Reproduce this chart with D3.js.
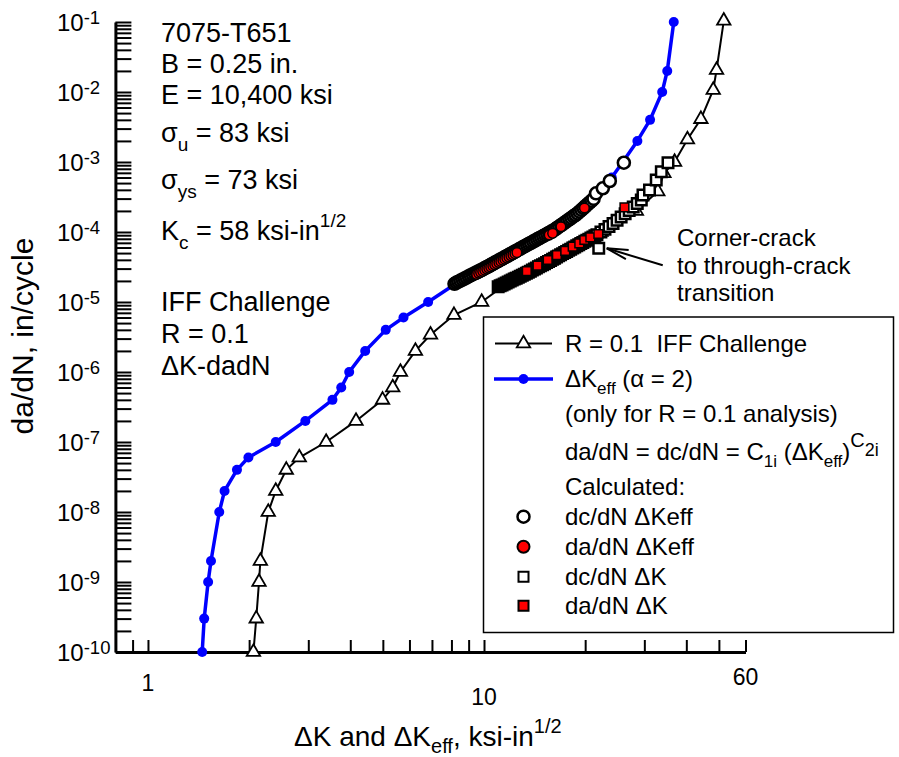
<!DOCTYPE html>
<html>
<head>
<meta charset="utf-8">
<script src="https://cdn.jsdelivr.net/npm/d3@7/dist/d3.min.js"></script>
<style>
  html, body { margin: 0; padding: 0; background: #ffffff; }
  svg text { font-family: "Liberation Sans", Arial, Helvetica, sans-serif; fill: #000; white-space: pre; }
</style>
</head>
<body>
<svg id="chart" width="899" height="757"></svg>
<script>
// 7075-T651, R = 0.1: da/dN against dK and dKeff (log-log)

// R = 0.1 IFF Challenge curve (open triangles)
const testK    = [2.06, 2.10, 2.14, 2.16, 2.28, 2.40, 2.58, 2.82, 3.39, 4.16, 4.99, 5.35, 5.64, 6.25, 6.93, 8.14, 9.84,
                  11.98, 15.88, 22.3, 28.4, 32.9, 34.3, 36.9, 40.3, 44.2, 48.1, 49.2, 51.7];
const testRate = [1e-10, 3e-10, 1e-9, 2e-9, 1e-8, 2e-8, 4e-8, 6e-8, 1e-7, 2e-7, 4e-7, 6e-7, 1e-6, 2e-6, 3.4e-6, 6.5e-6, 1e-5,
                  2e-5, 4e-5, 1e-4, 2e-4, 3.8e-4, 6.9e-4, 1e-3, 2.1e-3, 4.1e-3, 1.07e-2, 2.06e-2, 0.104];

// dKeff (alpha = 2) curve (blue)
const keffK    = [1.45, 1.47, 1.51, 1.54, 1.63, 1.69, 1.84, 1.99, 2.40, 2.94, 3.54, 3.76, 3.97, 4.43, 5.10, 5.76, 6.82,
                  8.47, 11.15, 13.0, 15.77, 19.36, 22.41, 23.99, 25.88, 28.6, 31.2, 33.9, 35.1, 36.7];
const keffRate = [1e-10, 3e-10, 1e-9, 2e-9, 1e-8, 2e-8, 4e-8, 6e-8, 1e-7, 2e-7, 4e-7, 6e-7, 1e-6, 2e-6, 4e-6, 6e-6, 1e-5,
                  2e-5, 4e-5, 6e-5, 1e-4, 2e-4, 4e-4, 6e-4, 1e-3, 2e-3, 4e-3, 1e-2, 2e-2, 1e-1];

// Calculated dc/dN vs dKeff (open circles)
const dcKeffK = [8.17, 8.28, 8.39, 8.51, 8.63, 8.75, 8.87, 9.00, 9.12, 9.25, 9.38, 9.51, 9.64, 9.77, 9.91, 10.05, 10.19, 10.33,
                 10.47, 10.62, 10.76, 10.91, 11.07, 11.22, 11.38, 11.53, 11.69, 11.86, 12.02, 12.19, 12.36, 12.53, 12.71,
                 12.88, 13.06, 13.24, 13.43, 13.61, 13.80, 14.00, 14.19, 14.39, 14.59, 14.79, 15.00, 15.21, 15.42, 15.63,
                 15.85, 16.07, 16.29, 16.52, 16.75, 16.98, 17.22, 17.46, 17.70, 17.95, 18.20, 18.45, 18.71, 18.97, 19.23,
                 19.50, 19.77, 20.04, 20.32, 20.61, 20.89, 21.18, 21.55, 22.57, 23.68, 26.07];
const dcKeffRate = [1.82e-5, 1.89e-5, 1.95e-5, 2.02e-5, 2.09e-5, 2.16e-5, 2.24e-5, 2.32e-5, 2.40e-5, 2.48e-5, 2.57e-5, 2.66e-5,
                 2.75e-5, 2.84e-5, 2.94e-5, 3.05e-5, 3.16e-5, 3.27e-5, 3.39e-5, 3.52e-5, 3.65e-5, 3.78e-5, 3.93e-5, 4.07e-5,
                 4.22e-5, 4.38e-5, 4.54e-5, 4.71e-5, 4.89e-5, 5.07e-5, 5.25e-5, 5.45e-5, 5.65e-5, 5.86e-5, 6.08e-5, 6.31e-5,
                 6.55e-5, 6.78e-5, 7.03e-5, 7.30e-5, 7.57e-5, 7.85e-5, 8.15e-5, 8.43e-5, 8.75e-5, 9.08e-5, 9.42e-5, 9.77e-5,
                 1.014e-4, 1.05e-4, 1.09e-4, 1.15e-4, 1.20e-4, 1.26e-4, 1.32e-4, 1.38e-4, 1.45e-4, 1.52e-4, 1.59e-4, 1.67e-4,
                 1.75e-4, 1.84e-4, 1.95e-4, 2.07e-4, 2.19e-4, 2.33e-4, 2.48e-4, 2.63e-4, 2.79e-4, 2.97e-4, 3.57e-4, 4.21e-4,
                 5.35e-4, 9.77e-4];

// Calculated da/dN vs dKeff (red circles)
const daKeffK    = [9.51, 9.64, 9.77, 9.91, 10.05, 10.19, 10.33, 10.47, 10.62, 10.76, 10.91, 11.07, 11.22, 11.38, 11.53,
                    11.69, 11.86, 12.02, 12.19, 12.36, 12.53, 15.63, 16.0, 16.94, 19.9];
const daKeffRate = [2.48e-5, 2.57e-5, 2.65e-5, 2.74e-5, 2.85e-5, 2.95e-5, 3.05e-5, 3.16e-5, 3.28e-5, 3.41e-5, 3.53e-5,
                    3.67e-5, 3.80e-5, 3.94e-5, 4.09e-5, 4.24e-5, 4.39e-5, 4.56e-5, 4.73e-5, 4.90e-5, 5.08e-5,
                    9.06e-5, 9.57e-5, 1.19e-4, 2.2e-4];

// Calculated dc/dN vs dK (open squares)
const dcDkK = [11.02, 11.17, 11.32, 11.48, 11.64, 11.80, 11.97, 12.13, 12.30, 12.47, 12.65, 12.82, 13.00, 13.18, 13.37, 13.55,
               13.74, 13.93, 14.13, 14.32, 14.52, 14.72, 14.93, 15.14, 15.35, 15.56, 15.78, 16.00, 16.22, 16.44, 16.67, 16.90,
               17.14, 17.38, 17.62, 17.86, 18.11, 18.37, 18.62, 18.88, 19.14, 19.41, 19.68, 19.95, 20.23, 20.51, 20.80, 21.09,
               21.38, 21.68, 21.95, 22.28, 22.91, 23.55, 24.21, 24.89, 25.59, 26.30, 27.04, 27.80, 28.58, 29.38, 29.72, 31.08,
               32.55, 33.70, 35.28];
const dcDkRate = [1.65e-5, 1.70e-5, 1.75e-5, 1.81e-5, 1.87e-5, 1.93e-5, 2.00e-5, 2.06e-5, 2.13e-5, 2.19e-5, 2.26e-5, 2.34e-5,
               2.42e-5, 2.49e-5, 2.58e-5, 2.66e-5, 2.76e-5, 2.86e-5, 2.96e-5, 3.06e-5, 3.18e-5, 3.29e-5, 3.40e-5, 3.52e-5,
               3.66e-5, 3.78e-5, 3.93e-5, 4.07e-5, 4.23e-5, 4.40e-5, 4.56e-5, 4.73e-5, 4.91e-5, 5.09e-5, 5.28e-5, 5.48e-5,
               5.69e-5, 5.90e-5, 6.12e-5, 6.35e-5, 6.59e-5, 6.84e-5, 7.10e-5, 7.36e-5, 7.64e-5, 7.91e-5, 8.20e-5, 8.51e-5,
               8.83e-5, 9.16e-5, 5.85e-5, 1.00e-4, 1.09e-4, 1.20e-4, 1.32e-4, 1.47e-4, 1.64e-4, 1.82e-4, 2.03e-4, 2.28e-4,
               2.56e-4, 2.87e-4, 3.38e-4, 3.98e-4, 5.53e-4, 7.26e-4, 9.77e-4];

// Calculated da/dN vs dK (red squares)
const daDkK    = [13.41, 14.43, 15.47, 16.48, 17.45, 18.36, 19.21, 19.89, 20.72, 21.89, 26.18];
const daDkRate = [2.77e-5, 3.30e-5, 3.98e-5, 4.69e-5, 5.36e-5, 6.17e-5, 6.90e-5, 7.69e-5, 8.39e-5, 9.36e-5, 2.25e-4];

// Point marking the corner-crack to through-crack transition
const transitionK = 21.95, transitionRate = 5.85e-5;

// Axis ticks and labels
const yDecades     = [-10, -9, -8, -7, -6, -5, -4, -3, -2, -1];
const xTickValues  = [0.9, 1, 2, 3, 4, 5, 6, 7, 8, 9, 10, 20, 30, 40, 50, 60];
const xLabelValues = [1, 10, 60];
const xLabelTexts  = ["1", "10", "60"];

// ---------------------------------------------------------------------------
const svg = d3.select("#chart");
const x = d3.scaleLog().domain([0.8, 60]).range([115.4, 745.5]);
const y = d3.scaleLog().domain([1e-10, 1e-1]).range([652, 22]);

const zip = (ks, rs) => ks.map((k, i) => ({ k, r: rs[i] }));

// text with sub/superscript runs: parts = [[string, baselineShift, fontSize], ...]
function rich(g, px, py, parts, size, anchor) {
  const t = g.append("text").attr("x", px).attr("y", py).style("font-size", size + "px");
  if (anchor) t.attr("text-anchor", anchor);
  let cur = 0;
  parts.forEach(p => {
    const str = p[0], sh = p[1] || 0, fs = p[2] || size;
    t.append("tspan").attr("dy", sh - cur).style("font-size", fs + "px").text(str);
    cur = sh;
  });
  return t;
}

// ---- axes -----------------------------------------------------------------
const yTickValues = [];
yDecades.forEach(e => {
  const base = Math.pow(10, e);
  if (e === -1) { yTickValues.push(base); return; }
  for (let m = 1; m <= 9; m++) yTickValues.push(m * base);
});

const gy = svg.append("g")
  .attr("transform", `translate(${x.range()[0]},0)`)
  .call(d3.axisLeft(y).tickValues(yTickValues).tickSize(-16).tickSizeOuter(0).tickFormat(""));
gy.select(".domain").attr("stroke", "#000").attr("stroke-width", 3);
gy.selectAll(".tick line").attr("stroke", "#000").attr("stroke-width", 2);

const gx = svg.append("g")
  .attr("transform", `translate(0,${y.range()[0]})`)
  .call(d3.axisBottom(x).tickValues(xTickValues).tickSize(-12).tickSizeOuter(0).tickFormat(""));
gx.select(".domain").attr("stroke", "#000").attr("stroke-width", 3);
gx.selectAll(".tick line").attr("stroke", "#000").attr("stroke-width", 2);

// y tick labels: 10 with exponent, left aligned
yDecades.forEach(e => {
  rich(svg, 57, y(Math.pow(10, e)) + 8.6, [["10"], [String(e), -6.7, 18.5]], 24);
});

// x tick labels (each sits at its own height)
const xLabelDrop = { "1": 39, "10": 53, "60": 33 };
xLabelValues.forEach((v, i) => {
  svg.append("text")
    .attr("x", x(v)).attr("y", y.range()[0] + xLabelDrop[xLabelTexts[i]])
    .attr("text-anchor", "middle").style("font-size", "23px")
    .text(xLabelTexts[i]);
});

// axis titles
svg.append("text")
  .attr("transform", "translate(33,336) rotate(-90)")
  .attr("text-anchor", "middle").style("font-size", "30px")
  .text("da/dN, in/cycle");
rich(svg, 294, 746, [["\u0394K and \u0394K"], ["eff", 7, 20], [", ksi-in", 0], ["1/2", -13, 20]], 28);

// ---- series ---------------------------------------------------------------
const line = d3.line().x(d => x(d.k)).y(d => y(d.r));
const tri = d3.symbol(d3.symbolTriangle, 78);
const sqOpen = d3.symbol(d3.symbolSquare, 110);
const sqRed = d3.symbol(d3.symbolSquare, 76);

// dKeff curve
const keffPts = zip(keffK, keffRate);
svg.append("path").datum(keffPts).attr("d", line)
  .attr("fill", "none").attr("stroke", "#0000ff").attr("stroke-width", 3.5).attr("stroke-linejoin", "round");
svg.append("g").selectAll("circle").data(keffPts).join("circle")
  .attr("cx", d => x(d.k)).attr("cy", d => y(d.r)).attr("r", 5).attr("fill", "#0000ff");

// R = 0.1 test curve
const testPts = zip(testK, testRate);
svg.append("path").datum(testPts).attr("d", line)
  .attr("fill", "none").attr("stroke", "#000").attr("stroke-width", 2);
svg.append("g").selectAll("path").data(testPts).join("path")
  .attr("transform", d => `translate(${x(d.k)},${y(d.r)})`).attr("d", tri)
  .attr("fill", "#fff").attr("stroke", "#000").attr("stroke-width", 1.8);

// calculated dc/dN, dKeff
svg.append("g").selectAll("circle").data(zip(dcKeffK, dcKeffRate)).join("circle")
  .attr("cx", d => x(d.k)).attr("cy", d => y(d.r)).attr("r", 6)
  .attr("fill", "#fff").attr("stroke", "#000").attr("stroke-width", 2.6);

// calculated da/dN, dKeff
svg.append("g").selectAll("circle").data(zip(daKeffK, daKeffRate)).join("circle")
  .attr("cx", d => x(d.k)).attr("cy", d => y(d.r)).attr("r", 4.8)
  .attr("fill", "#ff0000").attr("stroke", "#000").attr("stroke-width", 1.5);

// calculated dc/dN, dK
svg.append("g").selectAll("path").data(zip(dcDkK, dcDkRate)).join("path")
  .attr("transform", d => `translate(${x(d.k)},${y(d.r)})`).attr("d", sqOpen)
  .attr("fill", "#fff").attr("stroke", "#000").attr("stroke-width", 2.5);

// calculated da/dN, dK
svg.append("g").selectAll("path").data(zip(daDkK, daDkRate)).join("path")
  .attr("transform", d => `translate(${x(d.k)},${y(d.r)})`).attr("d", sqRed)
  .attr("fill", "#ff0000").attr("stroke", "#000").attr("stroke-width", 1.5);

// ---- transition annotation -----------------------------------------------
const tipX = x(transitionK) + 8, tipY = y(transitionRate);
const tailX = tipX + 56, tailY = tipY + 17;
const ang = Math.atan2(tailY - tipY, tailX - tipX);
const headLen = 22, headHalf = 0.22;
const ann = svg.append("g").attr("stroke", "#000").attr("stroke-width", 2).attr("fill", "none");
ann.append("line").attr("x1", tailX).attr("y1", tailY).attr("x2", tipX).attr("y2", tipY);
ann.append("path").attr("d",
  `M${tipX + headLen * Math.cos(ang - headHalf)},${tipY + headLen * Math.sin(ang - headHalf)}` +
  `L${tipX},${tipY}` +
  `L${tipX + headLen * Math.cos(ang + headHalf)},${tipY + headLen * Math.sin(ang + headHalf)}`);
rich(svg, 677, 245.5, [["Corner-crack"]], 24);
rich(svg, 677, 273.5, [["to through-crack"]], 24);
rich(svg, 677, 300.5, [["transition"]], 24);

// ---- material / test notes -------------------------------------------------
const notes = svg.append("g");
rich(notes, 161, 42, [["7075-T651"]], 27);
rich(notes, 161, 73, [["B = 0.25 in."]], 27);
rich(notes, 161, 104, [["E = 10,400 ksi"]], 27);
rich(notes, 161, 142, [["\u03C3"], ["u", 9, 19], [" = 83 ksi", 0]], 27);
rich(notes, 161, 189, [["\u03C3"], ["ys", 9, 19], [" = 73 ksi", 0]], 27);
rich(notes, 161, 240, [["K"], ["c", 9, 19], [" = 58 ksi-in", 0], ["1/2", -13, 19]], 27);
rich(notes, 161, 311, [["IFF Challenge"]], 27);
rich(notes, 161, 343, [["R = 0.1"]], 27);
rich(notes, 161, 375, [["\u0394K-dadN"]], 27);

// ---- legend ---------------------------------------------------------------
const lg = svg.append("g");
lg.append("rect").attr("x", 483.5).attr("y", 317).attr("width", 410).attr("height", 315.5)
  .attr("fill", "#fff").attr("stroke", "#000").attr("stroke-width", 1.5);
const lmx = 523.5, ltx = 565;

lg.append("line").attr("x1", 495).attr("x2", 552).attr("y1", 343.5).attr("y2", 343.5)
  .attr("stroke", "#000").attr("stroke-width", 2);
lg.append("path").attr("transform", `translate(${lmx},343.5)`).attr("d", tri)
  .attr("fill", "#fff").attr("stroke", "#000").attr("stroke-width", 1.8);
rich(lg, ltx, 352, [["R = 0.1  IFF Challenge"]], 24);

lg.append("line").attr("x1", 494).attr("x2", 553).attr("y1", 379).attr("y2", 379)
  .attr("stroke", "#0000ff").attr("stroke-width", 3.5);
lg.append("circle").attr("cx", lmx).attr("cy", 379).attr("r", 5).attr("fill", "#0000ff");
rich(lg, ltx, 387, [["\u0394K"], ["eff", 7, 17], [" (\u03B1 = 2)", 0]], 24);
rich(lg, ltx, 422, [["(only for R = 0.1 analysis)"]], 24);
rich(lg, ltx, 460, [["da/dN = dc/dN = C"], ["1i", 7, 17], [" (\u0394K", 0], ["eff", 7, 17], [")", 0],
                    ["C", -13, 20], ["2i", -4, 18]], 24);
rich(lg, ltx, 495, [["Calculated:"]], 24);

lg.append("circle").attr("cx", lmx).attr("cy", 516.7).attr("r", 6)
  .attr("fill", "#fff").attr("stroke", "#000").attr("stroke-width", 2.5);
rich(lg, ltx, 525, [["dc/dN \u0394Keff"]], 24);
lg.append("circle").attr("cx", lmx).attr("cy", 546.7).attr("r", 6)
  .attr("fill", "#ff0000").attr("stroke", "#000").attr("stroke-width", 2);
rich(lg, ltx, 555, [["da/dN \u0394Keff"]], 24);
lg.append("path").attr("transform", `translate(${lmx},576.7)`).attr("d", d3.symbol(d3.symbolSquare, 100))
  .attr("fill", "#fff").attr("stroke", "#000").attr("stroke-width", 2);
rich(lg, ltx, 585, [["dc/dN \u0394K"]], 24);
lg.append("path").attr("transform", `translate(${lmx},605.7)`).attr("d", d3.symbol(d3.symbolSquare, 100))
  .attr("fill", "#ff0000").attr("stroke", "#000").attr("stroke-width", 2);
rich(lg, ltx, 614, [["da/dN \u0394K"]], 24);
</script>
</body>
</html>
